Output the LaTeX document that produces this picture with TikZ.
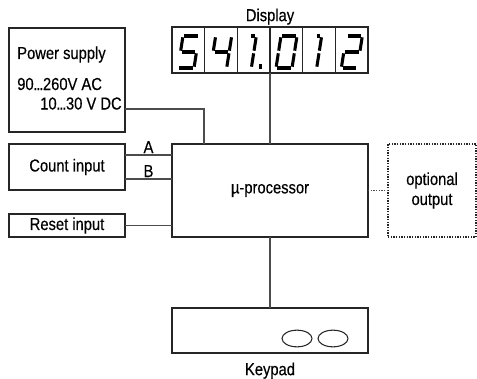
\documentclass[tikz,border=0pt]{standalone}
\usepackage{fontspec}
\setmainfont{Liberation Sans}[FakeStretch=0.85, FakeBold=0.4]
\usetikzlibrary{positioning,shapes.geometric}
\newcommand\tightdots{\kern-0.3pt.\kern-0.8pt.\kern-0.8pt.\kern-0.3pt}

\begin{document}
\begin{tikzpicture}[
  x=0.75pt, y=-0.75pt,
  every node/.style={font=\fontsize{13}{15}\selectfont},
  blk/.style={draw=black!85, line width=1pt, inner sep=0pt, outer sep=0pt},
  wire/.style={draw=black!70, line width=1pt},
  seg/.style={line width=2.3pt, shorten <=1pt, shorten >=1pt},
  pics/digit/.style={code={
    \foreach \ua/\va/\ub/\vb in {#1}
      \draw[seg] (6+16*\ua+5*\va,-32*\va) -- (6+16*\ub+5*\vb,-32*\vb);}},
]
  \useasboundingbox (0,0) rectangle (477,378);
  % blocks
  \node[blk, minimum width=87pt, minimum height=78pt] (ps) at (67,80) {};
  \node[blk, minimum width=87pt, minimum height=34.5pt] (cnt) at (67,167) {Count input};
  \node[blk, minimum width=87pt, minimum height=17.25pt] (rst) at (67,225.5) {Reset input};
  \node[blk, minimum width=147pt, minimum height=69.75pt] (cpu) at (270,190.5) {µ-processor};
  \node[blk, densely dotted, minimum width=66pt, minimum height=69.75pt, align=center]
       (opt) at (432,190.5) {optional\\output};
  \node[blk, minimum width=147pt, minimum height=34.5pt] (disp) at (270,50) {};
  \node[blk, minimum width=147pt, minimum height=33.75pt] (keys) at (270,330.5) {};
  % power supply texts
  \node[anchor=base west, inner sep=0pt] (pstitle) at (17,59) {Power supply};
  \node[anchor=base west, inner sep=0pt] (psac) at (17,90) {90\tightdots260V AC};
  \node[anchor=base west, inner sep=0pt] (psdc) at (40,109.5) {10\tightdots30 V DC};
  % display cells and digits
  \foreach \i in {1,...,5}
    \draw[blk] ([xshift=\i*24.5pt]disp.north west) -- ([xshift=\i*24.5pt]disp.south west);
  \pic at (172,68) {digit={0/1/1/1, 0/.5/0/1, 0/.5/1/.5, 1/.5/1/0, 0/0/1/0}};
  \pic at (204.67,68) {digit={0/.5/0/1, 0/.5/1/.5, 1/1/1/.5, 1/.5/1/0}};
  \pic at (237.33,68) {digit={.5/0/.5/.5, .5/.5/.5/1, .1/1/.5/1}};
  \pic at (270,68) {digit={0/1/1/1, 1/1/1/.5, 1/.5/1/0, 0/0/1/0, 0/0/0/.5, 0/.5/0/1}};
  \pic at (302.67,68) {digit={.5/0/.5/.5, .5/.5/.5/1, .1/1/.5/1}};
  \pic at (335.33,68) {digit={0/1/1/1, 1/1/1/.5, 0/.5/1/.5, 0/0/0/.5, 0/0/1/0}};
  \fill (258.5,64) rectangle (262,68.5);
  % keypad keys
  \node[shape=ellipse, draw=black!85, line width=0.8pt, minimum width=22.5pt,
        minimum height=12.5pt, inner sep=0pt] (key1) at (297,338.5) {};
  \node[shape=ellipse, draw=black!85, line width=0.8pt, minimum width=22.5pt,
        minimum height=12.5pt, inner sep=0pt] (key2) at (333,338.5) {};
  % labels
  \node[above=1.5pt of disp, inner sep=0pt] (displbl) {Display};
  \node[below=7pt of keys, inner sep=0pt] (keyslbl) {Keypad};
  % connections
  \draw[wire] ([yshift=-21.75pt]ps.east) -| ([xshift=-49.5pt]cpu.north);
  \draw[wire] ([yshift=9pt]cnt.east) -- ([yshift=9pt]cnt.east -| cpu.west)
        node[midway, above, inner sep=1pt] (la) {A};
  \draw[wire] ([yshift=-9pt]cnt.east) -- ([yshift=-9pt]cnt.east -| cpu.west)
        node[midway, above, inner sep=1pt] (lb) {B};
  \draw[wire] (rst.east) -- (rst.east -| cpu.west);
  \draw[wire] (disp.south) -- (cpu.north);
  \draw[wire] (cpu.south) -- (keys.north);
  \draw[wire, densely dotted] (cpu.east) -- (opt.west);
\end{tikzpicture}
\end{document}
